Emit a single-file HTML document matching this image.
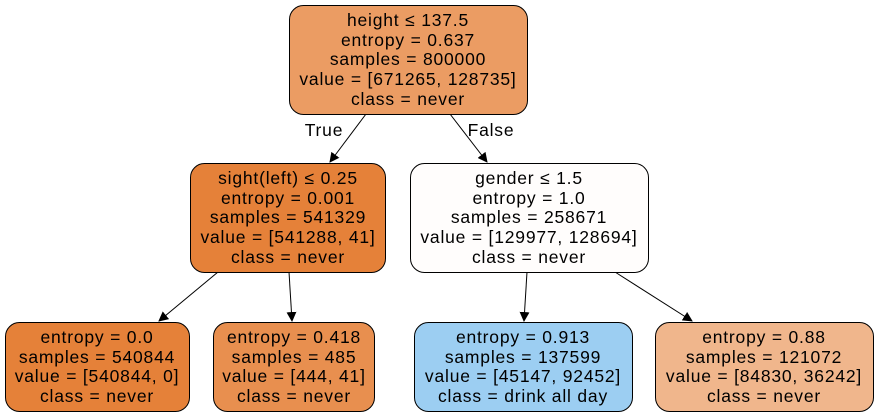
<!DOCTYPE html>
<html><head><meta charset="utf-8"><style>
html,body{margin:0;padding:0;background:#fff;width:878px;height:419px;overflow:hidden}
text{font-family:"Liberation Sans",Arial,sans-serif;font-size:17.5px;letter-spacing:0.8px;fill:#000}
</style></head><body>
<svg width="878" height="419" viewBox="0 0 878 419">
<defs><marker id="ah" markerWidth="10" markerHeight="10" refX="9" refY="5" orient="auto" markerUnits="userSpaceOnUse"><path d="M0,0 L10,5 L0,10 z" fill="#000"/></marker></defs>
<g stroke="#000" stroke-width="1" fill="none">
<line x1="366" y1="114" x2="330" y2="162" marker-end="url(#ah)"/>
<line x1="450" y1="114" x2="487" y2="162" marker-end="url(#ah)"/>
<line x1="218" y1="272" x2="159" y2="321" marker-end="url(#ah)"/>
<line x1="289" y1="272" x2="292" y2="321" marker-end="url(#ah)"/>
<line x1="527" y1="272" x2="524" y2="321" marker-end="url(#ah)"/>
<line x1="615" y1="272" x2="692" y2="321" marker-end="url(#ah)"/>
</g>
<text x="324" y="136" text-anchor="middle">True</text>
<text x="491" y="136" text-anchor="middle">False</text>
<g stroke="#000" stroke-width="1">
<rect x="289.5" y="5.5" width="238" height="109" rx="14" fill="#eb9c63"/>
<rect x="190.5" y="163.5" width="195" height="109" rx="14" fill="#e58139"/>
<rect x="410.5" y="163.5" width="238" height="109" rx="14" fill="#fffdfc"/>
<rect x="5.5" y="322.5" width="184" height="89" rx="14" fill="#e58139"/>
<rect x="213.5" y="322.5" width="161" height="89" rx="14" fill="#e88f4f"/>
<rect x="414.5" y="322.5" width="218" height="89" rx="14" fill="#9ccef2"/>
<rect x="655.5" y="322.5" width="218" height="89" rx="14" fill="#f0b68c"/>
</g>
<g text-anchor="middle">
<g>
<text x="408" y="26">height ≤ 137.5</text><text x="408" y="46">entropy = 0.637</text><text x="408" y="65">samples = 800000</text><text x="408" y="85">value = [671265, 128735]</text><text x="408" y="105">class = never</text></g>
<g>
<text x="288" y="184">sight(left) ≤ 0.25</text><text x="288" y="204">entropy = 0.001</text><text x="288" y="223">samples = 541329</text><text x="288" y="243">value = [541288, 41]</text><text x="288" y="263">class = never</text></g>
<g>
<text x="529" y="184">gender ≤ 1.5</text><text x="529" y="204">entropy = 1.0</text><text x="529" y="223">samples = 258671</text><text x="529" y="243">value = [129977, 128694]</text><text x="529" y="263">class = never</text></g>
<g>
<text x="97" y="343">entropy = 0.0</text><text x="97" y="363">samples = 540844</text><text x="97" y="382">value = [540844, 0]</text><text x="97" y="402">class = never</text></g>
<g>
<text x="294" y="343">entropy = 0.418</text><text x="294" y="363">samples = 485</text><text x="294" y="382">value = [444, 41]</text><text x="294" y="402">class = never</text></g>
<g>
<text x="523" y="343">entropy = 0.913</text><text x="523" y="363">samples = 137599</text><text x="523" y="382">value = [45147, 92452]</text><text x="523" y="402">class = drink all day</text></g>
<g>
<text x="764" y="343">entropy = 0.88</text><text x="764" y="363">samples = 121072</text><text x="764" y="382">value = [84830, 36242]</text><text x="764" y="402">class = never</text></g>
</g>
</svg>
</body></html>
